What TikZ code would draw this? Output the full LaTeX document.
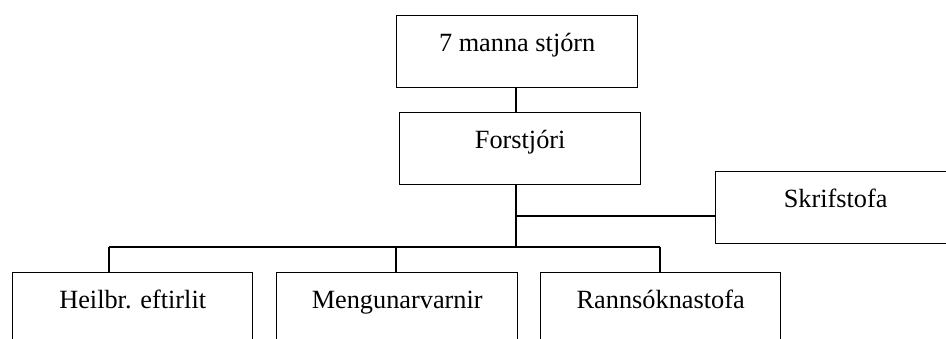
\documentclass[tikz,border=0pt]{standalone}
\usepackage{fontspec}
\setmainfont{Liberation Serif}
\newfontfamily\orgfont{Liberation Serif}
\begin{document}
\begin{tikzpicture}[x=1pt,y=-1pt,
  orgbox/.style={draw, line width=1.4pt, rectangle, anchor=north west,
    minimum width=241pt, inner xsep=0pt, inner ysep=0pt,
    text height=36pt, text depth=36pt,
    font=\orgfont\fontsize{26.3}{30}\selectfont},
  link/.style={line width=1.4pt}]
  \useasboundingbox (0,0) rectangle (946,338);
  % management
  \node[orgbox] (board) at (396,15) {7 manna stjórn};
  \node[orgbox] (director) at (399,112) {Forstjóri};
  \node[orgbox, minimum width=240pt] (office) at (715,171) {Skrifstofa};
  % departments
  \node[orgbox, minimum width=240pt] (health) at (12,272) {Heilbr. eftirlit};
  \node[orgbox, minimum width=241pt] (pollution) at (276,272) {Mengunarvarnir};
  \node[orgbox, minimum width=240pt] (lab) at (540,272) {Rannsóknastofa};
  % junctions
  \coordinate (spine) at (516,247);
  \coordinate (officejoin) at (516,216);
  \coordinate (busL) at (109,247);
  \coordinate (busM) at (396,247);
  \coordinate (busR) at (660,247);
  % connectors
  \draw[link] (board.south -| spine) -- (director.north -| spine);
  \draw[link] (director.south -| spine) -- (spine);
  \draw[link] (officejoin) -- (office.west |- officejoin);
  \draw[link] (busL) -- (busR);
  \draw[link] (busL) -- (health.north -| busL);
  \draw[link] (busM) -- (pollution.north -| busM);
  \draw[link] (busR) -- (lab.north -| busR);
\end{tikzpicture}
\end{document}
